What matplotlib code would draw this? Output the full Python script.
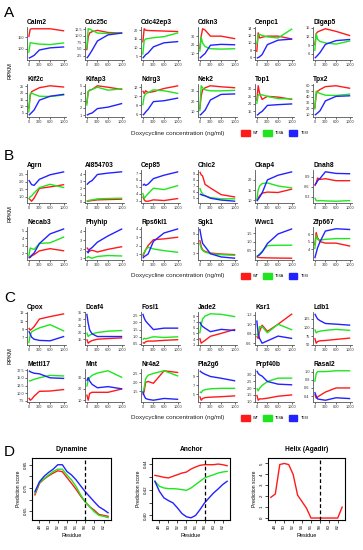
import numpy as np
import matplotlib
matplotlib.use("Agg")
import matplotlib.pyplot as plt
from matplotlib.patches import Patch

plt.rcParams["font.family"] = ["Liberation Sans", "DejaVu Sans"]

W, H = 363, 550

RED = "#FF1A1A"
GREEN = "#1EE61E"
BLUE = "#2222FF"
COLORS = [RED, GREEN, BLUE]
LEGEND_LABELS = ["WT", "T58A", "T58I"]

DOSE = [0, 40, 80, 150, 300, 600, 1000]
DOSE_TICKS = [0, 300, 600, 1000]

# ---------------- panel A ----------------
A_GENES = ["Calm2", "Cdc25c", "Cdc42ep3", "Cdkn3", "Cenpc1", "Dlgap5",
           "Kif2c", "Kifap3", "Ndrg3", "Nek2", "Top1", "Tpx2"]
A_YTICKS = [["100", "150"], ["2.5", "5.0", "7.5", "10.0", "12.5"], ["5", "10", "15", "20"],
            ["10", "20", "30"], ["6", "8", "10", "12", "14"], ["6", "9", "12", "15"],
            ["5", "10", "15", "20", "25"], ["1", "2", "3", "4", "5"], ["6", "8", "10", "12"],
            ["10", "20", "30"], ["15", "20", "25", "30"], ["10", "20", "30", "40", "50", "60"]]
A_WT = [[150, 183, 185, 185, 185, 185, 176],
        [4.5, 9.5, 11.0, 11.5, 12.0, 11.2, 11.0],
        [13, 20.8, 20.0, 19.8, 19.7, 19.5, 19.2],
        [15, 30, 38.5, 37, 30, 30, 27],
        [7.5, 12.7, 11.3, 11.5, 11.8, 11.8, 11.0],
        [9, 13, 13.6, 14.0, 14.7, 13.8, 12.3],
        [8, 18, 21, 22, 24, 25.5, 24.5],
        [2.6, 4.2, 4.4, 4.5, 5.0, 4.8, 4.5],
        [11.2, 10.6, 11.2, 10.8, 11.0, 11.7, 12.3],
        [12, 25, 31, 33, 35, 34, 33],
        [22, 32, 27, 23, 25, 24.5, 23],
        [20, 45, 50, 53, 58, 59.5, 55]]
A_T58A = [[83, 126, 125, 123, 120, 118, 125],
          [5.0, 12.6, 12.5, 12.0, 11.0, 10.8, 11.0],
          [6, 14.0, 15.0, 15.2, 15.7, 16.3, 18.5],
          [12, 29, 22, 18, 15.5, 15, 15.5],
          [9.5, 12.0, 12.3, 12.0, 11.6, 11.3, 13.8],
          [7, 13, 11, 10.3, 9.8, 9.4, 10.5],
          [5, 19.5, 20, 19, 17.5, 17.3, 18.5],
          [2.3, 4.2, 4.4, 4.5, 4.8, 4.4, 4.6],
          [8, 10.0, 10.5, 10.8, 11.4, 11.2, 10.6],
          [10, 35, 33, 31, 30, 30, 30.5],
          [20, 26, 26, 26, 25, 23.5, 23.3],
          [18, 50, 48, 46, 43, 42.5, 45]]
A_T58I = [[60, 63, 66, 72, 95, 104, 108],
          [1.5, 2.2, 3.0, 4.5, 8.0, 10.3, 11.0],
          [4.0, 5.0, 6.0, 7.0, 10.5, 12.8, 13.5],
          [4.5, 6, 7.5, 10, 19.5, 20.5, 20],
          [5.8, 6.0, 6.2, 6.8, 9.5, 10.7, 11.0],
          [4.5, 5.0, 5.5, 6.5, 9.3, 10.6, 11.0],
          [3, 4, 5, 7, 14.5, 17.5, 19],
          [1.0, 1.1, 1.2, 1.3, 1.9, 2.1, 2.6],
          [5.8, 6.1, 6.5, 7.1, 8.8, 9.0, 9.6],
          [6, 7, 8.5, 11, 21, 26.5, 27],
          [12.5, 13, 14, 15, 19, 19.5, 20],
          [8, 10, 12, 16, 33, 41, 42]]

# ---------------- panel B ----------------
B_GENES = ["Agrn", "AI854703", "Cep85", "Chic2", "Ckap4", "Dnah8",
           "Necab3", "Phyhip", "Rps6kl1", "Sgk1", "Wwc1", "Zfp667"]
B_YTICKS = [["1.0", "1.5", "2.0", "2.5"], ["0", "1", "2", "3", "4"], ["3", "4", "5", "6", "7"],
            ["5", "6", "7", "8", "9"], ["10", "15", "20"], ["0.3", "0.6", "0.9"],
            ["1", "2", "3", "4", "5"], ["1", "2", "3", "4"], ["1", "2", "3", "4"],
            ["3", "6", "9"], ["0.5", "1.0", "1.5"], ["4", "5", "6"]]
B_WT = [[0.9, 0.8, 0.7, 0.9, 1.55, 1.65, 1.8],
        [0.05, 0.07, 0.1, 0.15, 0.25, 0.3, 0.35],
        [3.6, 3.1, 2.9, 2.9, 3.1, 3.0, 3.3],
        [9.3, 8.8, 8.6, 7.2, 6.6, 5.5, 5.1],
        [10, 11, 12.2, 13.5, 14.0, 13.8, 15.5],
        [0.62, 0.72, 0.86, 0.82, 0.84, 0.78, 0.78],
        [1.5, 1.4, 1.6, 1.8, 2.3, 2.6, 2.3],
        [2.2, 2.0, 1.8, 1.9, 1.7, 2.0, 2.3],
        [0.7, 1.1, 1.5, 2.0, 2.7, 2.8, 3.0],
        [7, 5, 4, 3.5, 3.0, 2.7, 2.5],
        [0.1, 0.1, 0.09, 0.08, 0.07, 0.06, 0.05],
        [4.5, 6.2, 5.5, 5.0, 4.8, 4.8, 4.4]]
B_T58A = [[0.85, 1.0, 1.05, 1.25, 1.6, 1.82, 1.6],
          [0.1, 0.15, 0.2, 0.25, 0.4, 0.45, 0.5],
          [4.1, 3.3, 3.6, 4.0, 4.8, 4.6, 5.2],
          [6.6, 6.0, 5.6, 5.3, 5.0, 4.8, 4.8],
          [10, 15, 17, 18.2, 18.5, 17, 16],
          [0.27, 0.18, 0.17, 0.18, 0.17, 0.16, 0.18],
          [1.5, 2.7, 2.6, 2.5, 3.3, 3.4, 4.2],
          [1.0, 1.2, 1.1, 1.0, 1.2, 1.3, 1.25],
          [0.9, 1.2, 1.5, 1.8, 1.6, 1.4, 1.2],
          [6, 4.5, 3.8, 3.3, 2.8, 2.5, 2.3],
          [0.1, 0.2, 0.3, 0.45, 0.78, 0.8, 0.8],
          [4.0, 5.8, 5.3, 5.2, 5.3, 5.4, 5.4]]
B_T58I = [[2.1, 1.95, 1.8, 1.75, 2.15, 2.45, 2.65],
          [2.5, 2.7, 2.9, 3.1, 4.0, 4.2, 4.4],
          [5.2, 5.4, 5.2, 5.4, 6.2, 6.7, 7.2],
          [5.6, 5.5, 5.4, 5.3, 4.9, 4.6, 4.4],
          [9.5, 10.5, 11.5, 13.5, 20, 22.3, 24],
          [0.65, 0.7, 0.78, 0.85, 1.05, 1.0, 0.99],
          [1.3, 1.5, 1.7, 2.0, 3.3, 4.6, 5.3],
          [1.8, 1.6, 2.0, 2.2, 2.8, 3.5, 4.3],
          [0.5, 0.7, 0.8, 1.0, 2.5, 3.5, 4.0],
          [10.5, 8, 6, 5, 2.8, 1.8, 1.4],
          [0.15, 0.2, 0.25, 0.4, 0.9, 1.45, 1.75],
          [2.8, 3.5, 4.2, 5.0, 6.4, 6.7, 6.6]]

# ---------------- panel C ----------------
C_GENES = ["Cpox", "Dcaf4", "Fosl1", "Jade2", "Ksr1", "Ldb1",
           "Mettl17", "Mnt", "Nr4a2", "Pla2g6", "Prpf40b", "Rasal2"]
C_YTICKS = [["5", "7", "9", "11", "13"], ["10", "15", "20", "25", "30", "35"],
            ["0.5", "1.0", "1.5", "2.0", "2.5"], ["3", "4", "5", "6", "7", "8"],
            ["0.6", "0.8", "1.0", "1.2"], ["50", "75", "100", "125"],
            ["7.5", "10.0", "12.5", "15.0", "17.5"], ["10", "20", "30"], ["1.5", "2.0", "2.5"],
            ["3", "5", "7", "9"], ["1.0", "1.5", "2.0", "2.5", "3.0"], ["0.4", "0.6", "0.8", "1.0"]]
C_WT = [[9.3, 8.7, 9.0, 9.6, 11.5, 12.1, 12.8],
        [15, 12, 13, 14, 15, 15.5, 16],
        [0.6, 0.55, 0.65, 0.7, 0.7, 0.75, 0.8],
        [4.2, 3.3, 3.5, 3.8, 4.5, 5.0, 5.7],
        [0.75, 0.7, 0.85, 0.98, 0.85, 1.0, 1.22],
        [70, 55, 60, 62, 63, 66, 70],
        [8.5, 7.7, 8.0, 9.0, 10.6, 10.7, 11.2],
        [15, 10, 16, 17, 17, 17, 20],
        [1.3, 1.5, 2.0, 2.05, 1.95, 2.65, 2.55],
        [4.5, 3.6, 4.0, 4.2, 4.3, 4.4, 4.6],
        [1.5, 1.1, 1.2, 1.2, 1.25, 1.4, 1.5],
        [0.45, 0.35, 0.38, 0.42, 0.5, 0.6, 0.6]]
C_T58A = [[5.5, 7.5, 8.3, 8.7, 9.3, 10.1, 8.5],
          [20, 17, 18, 19, 20, 21, 21.5],
          [0.8, 0.9, 0.85, 0.9, 1.0, 0.95, 1.0],
          [5, 6.5, 7.5, 8.0, 8.4, 8.3, 7.9],
          [0.8, 0.75, 0.95, 0.95, 0.82, 1.0, 0.88],
          [95, 85, 88, 90, 92, 95, 92],
          [14.0, 14.0, 14.2, 14.5, 15.0, 15.8, 15.6],
          [22, 28, 30, 32, 34, 36, 30],
          [1.4, 1.7, 2.2, 2.4, 2.5, 2.65, 2.35],
          [5.5, 5.3, 5.8, 6.0, 6.2, 6.3, 6.3],
          [2.0, 1.8, 2.0, 2.2, 2.5, 2.75, 2.75],
          [0.75, 0.95, 1.0, 1.0, 1.0, 1.02, 1.02]]
C_T58I = [[8.5, 7.8, 7.0, 6.5, 6.2, 6.1, 7.2],
          [34, 27, 22, 19, 17, 17, 17],
          [2.6, 2.3, 2.1, 1.9, 1.5, 1.6, 1.6],
          [7.0, 6.5, 6.2, 5.9, 5.3, 5.7, 5.5],
          [1.08, 0.8, 0.7, 0.6, 0.65, 0.75, 0.7],
          [140, 132, 125, 120, 112, 110, 107],
          [17.3, 17.0, 16.8, 16.5, 16.3, 15.0, 14.8],
          [27, 30, 27, 24, 21, 22, 20],
          [1.5, 1.25, 1.1, 1.05, 1.0, 1.1, 1.05],
          [10.3, 10.0, 9.8, 9.5, 9.0, 8.6, 8.0],
          [3.3, 3.1, 3.0, 2.9, 2.5, 2.3, 2.25],
          [0.5, 0.4, 0.33, 0.32, 0.30, 0.36, 0.34]]

# ---------------- panel D ----------------
RESIDUE = list(range(47, 64))
RES_TICKS = list(range(48, 63, 2))
DYN_WT = [0.72, 0.77, 0.788, 0.802, 0.814, 0.824, 0.82, 0.795, 0.77, 0.744, 0.715,
          0.69, 0.669, 0.654, 0.636, 0.632, 0.628]
DYN_T58A = [0.727, 0.773, 0.79, 0.806, 0.821, 0.831, 0.831, 0.806, 0.785, 0.756, 0.72,
            0.69, 0.669, 0.647, 0.632, 0.628, 0.622]
DYN_T58I = [0.734, 0.777, 0.80, 0.817, 0.831, 0.85, 0.85, 0.821, 0.806, 0.785, 0.759,
            0.734, 0.712, 0.69, 0.669, 0.657, 0.643]
ANC_WT = [0.4312, 0.4305, 0.4297, 0.4292, 0.4305, 0.4317, 0.433, 0.4338, 0.4361, 0.4377,
          0.439, 0.4395, 0.4395, 0.4395, 0.44, 0.4395, 0.4387]
ANC_T58A = [0.4266, 0.4227, 0.4214, 0.4209, 0.4209, 0.4206, 0.4201, 0.4196, 0.4214, 0.424,
            0.4266, 0.4292, 0.4305, 0.4317, 0.433, 0.4338, 0.4343]
ANC_T58I = [0.4266, 0.4188, 0.4137, 0.4116, 0.4098, 0.4059, 0.4015, 0.399, 0.3982, 0.40,
            0.4046, 0.4098, 0.4137, 0.4175, 0.4206, 0.424, 0.4266]
HELIX_WT = [1.9, 2.2, 4.9, 5.0, 4.9, 4.0, 2.1, 1.5, 0.9, 0.0, 0.0, 0.0, 0.0, 0.0,
            0.0, 0.0, 1.0]
MUT_SITE = 58


def rect(x0, y0, x1, y1):
    return [x0 / W, 1 - y1 / H, (x1 - x0) / W, (y1 - y0) / H]


COL_X = [27, 85, 141, 198, 255, 313]
ROW_Y = [27, 84]
PANEL_W, PANEL_H = 39, 33


def small_panel(fig, box, gene, yticks, series):
    ax = fig.add_axes(box)
    for vals, col in zip(series, COLORS):
        ax.plot(DOSE, vals, color=col, lw=1.0, solid_capstyle="butt")
    ax.set_xticks(DOSE_TICKS)
    ax.set_xticklabels([str(t) for t in DOSE_TICKS])
    ax.set_yticks([float(t) for t in yticks])
    ax.set_yticklabels(yticks)
    ax.margins(x=0.05, y=0.06)
    for s in ("top", "right"):
        ax.spines[s].set_visible(False)
    for s in ("left", "bottom"):
        ax.spines[s].set_color("#555555")
        ax.spines[s].set_linewidth(0.6)
    ax.tick_params(length=1.5, width=0.5, pad=0.8, labelsize=2.8, colors="#333333")
    ax.set_title(gene, loc="left", fontsize=4.8, fontweight="bold", pad=2)
    return ax


def section(fig, letter, off, genes, ylabels, wt, ta, ti):
    fig.text(4 / W, 1 - (13 + off) / H, letter, fontsize=11, va="center", ha="left")
    fig.text(10 / W, 1 - (71 + off) / H, "RPKM", fontsize=4.2, rotation=90,
             va="center", ha="center")
    for i, gene in enumerate(genes):
        r, c = divmod(i, 6)
        x0 = COL_X[c]
        y0 = ROW_Y[r] + off
        small_panel(fig, rect(x0, y0, x0 + PANEL_W, y0 + PANEL_H), gene, ylabels[i],
                    (wt[i], ta[i], ti[i]))
    fig.text(178 / W, 1 - (133 + off) / H, "Doxycycline concentration (ng/ml)",
             fontsize=4.5, va="center", ha="center", color="#222222")
    handles = [Patch(facecolor=c, edgecolor=c) for c in COLORS]
    fig.legend(handles, LEGEND_LABELS, loc="center left",
               bbox_to_anchor=(241 / W, 1 - (133 + off) / H), ncol=3, frameon=False,
               fontsize=2.8, handlelength=2.2, handleheight=2.2, handletextpad=0.8,
               columnspacing=1.2, borderpad=0, borderaxespad=0)


def d_panel(fig, box, title, ylim, yticks, ylabels, series, colors):
    ax = fig.add_axes(box)
    for vals, col in zip(series, colors):
        ax.plot(RESIDUE, vals, color=col, lw=1.0)
    ax.axvline(MUT_SITE, color="black", ls=(0, (3, 2)), lw=0.9)
    ax.set_xlim(46.36, 63.64)
    ax.set_ylim(*ylim)
    ax.set_xticks(RES_TICKS)
    ax.set_xticklabels([str(t) for t in RES_TICKS], rotation=90)
    ax.set_yticks(yticks)
    ax.set_yticklabels(ylabels, rotation=90, va="center")
    for s in ax.spines.values():
        s.set_linewidth(0.8)
    ax.tick_params(length=2, width=0.5, pad=1, labelsize=3.2)
    ax.set_title(title, fontsize=4.8, fontweight="bold", pad=5)
    ax.set_xlabel("Residue", fontsize=4, labelpad=3)
    ax.set_ylabel("Prediction score", fontsize=3.6, labelpad=2)
    return ax


def main():
    fig = plt.figure(figsize=(W / 100, H / 100), dpi=100)

    section(fig, "A", 0, A_GENES, A_YTICKS, A_WT, A_T58A, A_T58I)
    section(fig, "B", 143, B_GENES, B_YTICKS, B_WT, B_T58A, B_T58I)
    section(fig, "C", 285, C_GENES, C_YTICKS, C_WT, C_T58A, C_T58I)

    fig.text(4 / W, 1 - 452 / H, "D", fontsize=11, va="center", ha="left")
    d_panel(fig, rect(32, 458, 111, 520), "Dynamine", (0.612, 0.879),
            [0.65, 0.70, 0.75, 0.80, 0.85], ["0.65", "", "0.75", "", "0.85"],
            (DYN_WT, DYN_T58A, DYN_T58I), COLORS)
    d_panel(fig, rect(152, 458, 230, 520), "Anchor", (0.3965, 0.4447),
            [0.40, 0.41, 0.42, 0.43, 0.44], ["0.40", "", "0.42", "", "0.44"],
            (ANC_WT, ANC_T58A, ANC_T58I), COLORS)
    d_panel(fig, rect(268, 458, 345, 520), "Helix (Agadir)", (-0.18, 5.5),
            [0, 1, 2, 3, 4, 5], ["0", "1", "2", "3", "4", "5"],
            (HELIX_WT,), [RED])

    fig.savefig("out.png", dpi=100)
    plt.close(fig)


if __name__ == "__main__":
    main()
